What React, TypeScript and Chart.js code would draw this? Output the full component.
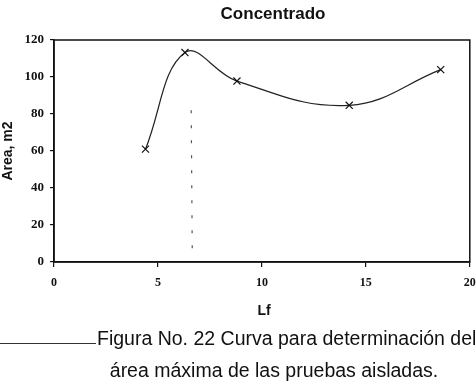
import React, { useEffect, useRef } from "react";
import { Chart, registerables } from "chart.js";

Chart.register(...registerables);

const chartTitle = "Concentrado";
const xTitle = "Lf";
const yTitle = "Area, m2";
const lfValues = [4.4, 6.3, 8.8, 14.2, 18.6];
const areaValues = [61, 113.2, 97.8, 84.7, 104];
const markerLineX = [6.6, 6.65];
const markerLineY = [82, 6];
const xTicks = [0, 5, 10, 15, 20];
const yTicks = [0, 20, 40, 60, 80, 100, 120];
const captionLine1 = "Figura No. 22 Curva para determinación del";
const captionLine2 = "área máxima de las pruebas aisladas.";

const decorPlugin = {
  id: "decor",
  afterDraw(chart: any) {
    const { ctx, chartArea } = chart;
    ctx.save();
    ctx.strokeStyle = "#111";
    ctx.lineWidth = 1.5;
    ctx.strokeRect(chartArea.left, chartArea.top, chartArea.right - chartArea.left, chartArea.bottom - chartArea.top);
    ctx.fillStyle = "#111";
    ctx.textAlign = "center";
    ctx.textBaseline = "middle";
    ctx.font = "bold 17px 'Liberation Sans', Arial, sans-serif";
    ctx.fillText(chartTitle, 273, 14);
    ctx.font = "bold 14px 'Liberation Sans', Arial, sans-serif";
    ctx.fillText(xTitle, 264, 311);
    ctx.font = "bold 14px 'Liberation Sans', Arial, sans-serif";
    ctx.translate(8, (chartArea.top + chartArea.bottom) / 2);
    ctx.rotate(-Math.PI / 2);
    ctx.fillText(yTitle, 0, 0);
    ctx.restore();
  },
};

export default function App() {
  const ref = useRef<HTMLCanvasElement>(null);
  useEffect(() => {
    document.body.style.margin = "0";
    const chart = new Chart(ref.current!, {
      type: "scatter",
      data: {
        datasets: [
          {
            data: lfValues.map((x, i) => ({ x, y: areaValues[i] })),
            showLine: true,
            tension: 0.4,
            borderColor: "#222",
            borderWidth: 1.2,
            pointStyle: "crossRot",
            pointRadius: 5,
            pointBorderColor: "#111",
            pointBorderWidth: 1.2,
          },
          {
            data: markerLineX.map((x, i) => ({ x, y: markerLineY[i] })),
            showLine: true,
            borderColor: "#555",
            borderWidth: 1.2,
            borderDash: [3, 12],
            pointRadius: 0,
          },
        ],
      },
      options: {
        animation: false,
        responsive: false,
        events: [],
        layout: { padding: { left: 0, top: 40, right: 3, bottom: 87 } },
        plugins: { legend: { display: false }, title: { display: false }, tooltip: { enabled: false } },
        scales: {
          x: {
            type: "linear",
            min: 0,
            max: 20,
            afterBuildTicks: (s: any) => { s.ticks = xTicks.map((v) => ({ value: v })); },
            afterFit: (s: any) => { s.height = 40; s.paddingLeft = 0; s.paddingRight = 0; },
            border: { display: true, color: "#111", width: 1.5 },
            grid: { drawOnChartArea: false, color: "#111", tickLength: 5, lineWidth: 1.2 },
            ticks: { color: "#111", font: { family: "'Liberation Serif', serif", size: 12, weight: "bold" }, padding: 9, maxRotation: 0 },
          },
          y: {
            min: 0,
            max: 120,
            afterBuildTicks: (s: any) => { s.ticks = yTicks.map((v) => ({ value: v })); },
            afterFit: (s: any) => { s.width = 54; s.paddingTop = 0; s.paddingBottom = 0; },
            border: { display: true, color: "#111", width: 1.5 },
            grid: { drawOnChartArea: false, color: "#111", tickLength: 4, lineWidth: 1.2 },
            ticks: { color: "#111", font: { family: "'Liberation Serif', serif", size: 13, weight: "bold" }, padding: 6 },
          },
        },
      },
      plugins: [decorPlugin],
    } as any);
    return () => chart.destroy();
  }, []);
  const cap: React.CSSProperties = {
    position: "absolute",
    fontFamily: "'Liberation Sans', Arial, sans-serif",
    fontSize: 19.5,
    color: "#111",
    whiteSpace: "nowrap",
    lineHeight: "22px",
  };
  return (
    <div style={{ position: "relative", width: 476, height: 389, overflow: "hidden", background: "#fff" }}>
      <canvas ref={ref} width={476} height={389} style={{ display: "block" }} />
      <div style={{ position: "absolute", left: 0, top: 343, width: 96, height: 1, background: "#333" }} />
      <div style={{ ...cap, left: 97, top: 327 }}>{captionLine1}</div>
      <div style={{ ...cap, left: 0, width: 548, textAlign: "center", top: 359 }}>{captionLine2}</div>
    </div>
  );
}
